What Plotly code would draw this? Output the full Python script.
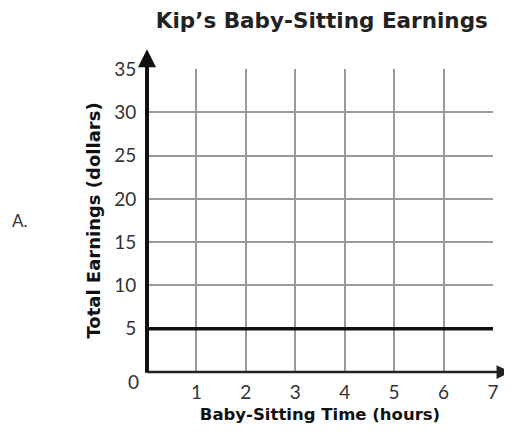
import plotly.graph_objects as go

title = "Kip’s Baby-Sitting Earnings"
x_title = "Baby-Sitting Time (hours)"
y_title = "Total Earnings (dollars)"
option_label = "A."

hours = [0, 7]
earnings = [5, 5]
x_ticks = [1, 2, 3, 4, 5, 6, 7]
y_ticks = [5, 10, 15, 20, 25, 30, 35]

FONT = "Lato"
BOLD = "DejaVu Sans"

fig = go.Figure()
fig.add_trace(go.Scatter(x=hours, y=earnings, mode="lines",
                         line=dict(color="#111", width=3.5),
                         cliponaxis=False, hoverinfo="skip", showlegend=False))

# page has an 8px body margin, so margins are offset by 8px
fig.update_layout(
    width=512, height=435,
    margin=dict(l=139, r=27, t=61, b=71, autoexpand=False),
    plot_bgcolor="white", paper_bgcolor="white",
    title=dict(text="<b>" + title + "</b>", x=0.613, xanchor="center", y=0.972,
               yanchor="middle", automargin=False,
               font=dict(family=BOLD, size=21.5, color="#222")),
    xaxis=dict(range=[0, 7], tickvals=x_ticks, ticktext=[str(v) for v in x_ticks],
               showgrid=True, gridcolor="#9a9a9a", gridwidth=1.5, automargin=False,
               zeroline=False, showline=False, ticks="outside", ticklen=3,
               tickcolor="rgba(0,0,0,0)",
               tickfont=dict(family=FONT, size=19, color="#333"),
               title=dict(text="<b>" + x_title + "</b>", standoff=6,
                          font=dict(family=BOLD, size=16.5, color="#111"))),
    yaxis=dict(range=[0, 35], tickvals=y_ticks, ticktext=[str(v) for v in y_ticks],
               showgrid=True, gridcolor="#9a9a9a", gridwidth=1.5, automargin=False,
               zeroline=False, showline=False, ticks="outside", ticklen=6,
               tickcolor="rgba(0,0,0,0)",
               tickfont=dict(family=FONT, size=19, color="#333"),
               title=dict(text="<b>" + y_title + "</b>", standoff=8,
                          font=dict(family=BOLD, size=18, color="#111"))),
)

# x axis line (y=0) and y axis line (x=0) with arrows
fig.add_annotation(xref="paper", yref="paper", x=1.05, y=0, ax=-364, ay=0,
                   text="", showarrow=True, arrowhead=2, arrowsize=1.1,
                   arrowwidth=2.5, arrowcolor="#222")
fig.add_annotation(xref="paper", yref="paper", x=0, y=1.065, ax=0, ay=325,
                   text="", showarrow=True, arrowhead=2, arrowsize=0.9,
                   arrowwidth=4, arrowcolor="#111")

# "0" label at origin
fig.add_annotation(xref="paper", yref="y", x=0, y=0, xanchor="right", yanchor="top",
                   xshift=-6, yshift=4, text="0", showarrow=False,
                   font=dict(family=FONT, size=19, color="#333"))

# option label
fig.add_annotation(xref="paper", yref="paper", x=-0.367, y=0.5, xanchor="center",
                   yanchor="middle", text=option_label, showarrow=False,
                   font=dict(family=FONT, size=17, color="#333"))

fig.write_html("out.html")
